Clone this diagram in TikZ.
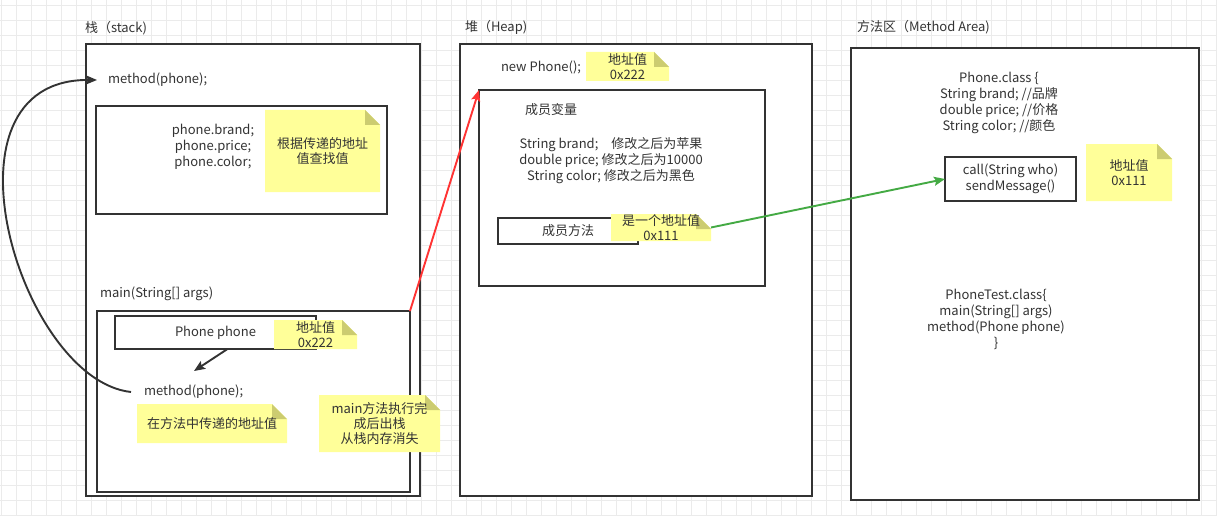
\documentclass[tikz,border=0pt]{standalone}
\usepackage{fontspec}
\setmainfont{Noto Sans CJK SC}
\usetikzlibrary{arrows.meta, positioning}
\definecolor{linec}{RGB}{51,51,51}
\definecolor{textc}{RGB}{51,51,51}
\definecolor{notefill}{RGB}{255,255,153}
\definecolor{notefold}{RGB}{204,204,112}
\definecolor{gridc}{RGB}{235,235,235}
\definecolor{refc}{RGB}{255,51,51}
\definecolor{linkc}{RGB}{68,170,68}

\begin{document}
\begin{tikzpicture}[
  x=1pt, y=-1pt,
  every node/.style={inner sep=0, outer sep=0, text=textc, font=\fontsize{13}{16}\selectfont},
  frame/.style={rectangle, draw=linec, line width=1.9pt, fill=white, anchor=north west, align=center},
  txt/.style={align=center},
  note/.style={rectangle, anchor=north west, align=center, font=\fontsize{13}{15}\selectfont,
    path picture={
      \fill[notefill] (path picture bounding box.south west) -- (path picture bounding box.north west)
        -- ([xshift=-15pt]path picture bounding box.north east)
        -- ([yshift=-15pt]path picture bounding box.north east)
        -- (path picture bounding box.south east) -- cycle;
      \fill[notefold] ([xshift=-15pt]path picture bounding box.north east)
        -- ([xshift=-15pt,yshift=-15pt]path picture bounding box.north east)
        -- ([yshift=-15pt]path picture bounding box.north east) -- cycle;
    }},
  arrow/.style={-{Stealth[length=11pt, width=9pt, inset=2pt]}, line width=1.9pt},
]
\useasboundingbox (0,0) rectangle (1217,516);
% grid
\foreach \gx in {0,...,81} \draw[gridc, line width=0.8pt] ({1.5+15*\gx},0) -- ({1.5+15*\gx},516);
\foreach \gy in {0,...,34} \draw[gridc, line width=0.8pt] (0,{5.5+15*\gy}) -- (1217,{5.5+15*\gy});

% stack
\node[anchor=west] (stacklbl) at (85,28) {栈（stack)};
\node[frame, minimum width=334, minimum height=452] (stack) at (86,44) {};
\node[anchor=west] (mtop) at (108,80) {method(phone);};
\node[frame, minimum width=291, minimum height=108] (scope1) at (96,106) {};
\node[txt] (fields) at (213,147) {phone.brand;\\phone.price;\\phone.color;};
\node[note, minimum width=115, minimum height=82] (nlookup) at (265,110) {根据传递的地址\\值查找值};
\node[anchor=west] (mainlbl) at (100,294) {main(String[] args)};
\node[frame, minimum width=313, minimum height=181] (scope2) at (97,311) {};
\node[frame, minimum width=201, minimum height=33] (pvar) at (115,316) {Phone phone};
\node[note, minimum width=83, minimum height=29] (naddr1) at (274,320) {地址值\\0x222};
\coordinate (ptip) at (194,371);
\draw[arrow, linec] ([xshift=12pt]pvar.south) -- (ptip);
\node[anchor=west] (mcall) at (144,392) {method(phone);};
\node[note, minimum width=150, minimum height=39] (npass) at (137,404) {在方法中传递的地址值};
\node[note, minimum width=121, minimum height=57] (npop) at (319,395) {main方法执行完\\成后出栈\\从栈内存消失};
\draw[arrow, linec] ([xshift=-13pt]mcall.west) .. controls (20,380) and (-70,79) .. ([xshift=-11pt]mtop.west);

% heap
\node[anchor=west] (heaplbl) at (465,27) {堆（Heap)};
\node[frame, minimum width=352, minimum height=452] (heap) at (460,44) {};
\node[anchor=west] (newobj) at (501,67) {new Phone();};
\node[note, minimum width=83, minimum height=29] (naddr2) at (586,52) {地址值\\0x222};
\node[frame, minimum width=286, minimum height=196] (obj) at (479,90) {};
\node[anchor=west] (memvar) at (525,110) {成员变量};
\node[txt] (objfields) at (611,161) {String brand;\quad 修改之后为苹果\\double price; 修改之后为10000\\String color; 修改之后为黑色};
\node[frame, minimum width=140, minimum height=26] (memfn) at (498,218) {成员方法};
\node[note, minimum width=100, minimum height=27] (naddr3) at (611,214) {是一个地址值\\0x111};

% method area
\node[anchor=west] (mlbl) at (857,27) {方法区（Method Area)};
\node[frame, minimum width=348, minimum height=452] (marea) at (851,48) {};
\node[txt] (pclass) at (999,103) {Phone.class \{\\String brand; //品牌\\double price; //价格\\String color; //颜色};
\node[frame, minimum width=131, minimum height=44] (calls) at (945,157) {call(String who)\\sendMessage()};
\node[note, minimum width=86, minimum height=57] (naddr4) at (1086,144) {地址值\\0x111};
\node[txt] (ptclass) at (996,319) {PhoneTest.class\{\\main(String[] args)\\method(Phone phone)\\\}};

\draw[arrow, refc] (scope2.north east) -- (obj.north west);
\draw[arrow, linkc] (naddr3.east) -- (calls.west);
\end{tikzpicture}
\end{document}
